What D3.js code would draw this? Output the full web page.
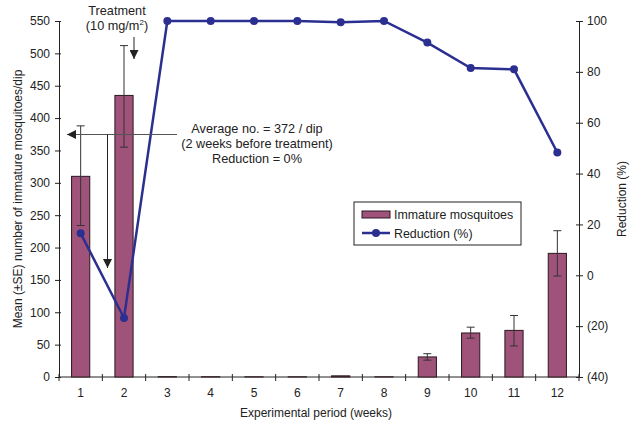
<!DOCTYPE html>
<html>
<head>
<meta charset="utf-8">
<script src="https://cdn.jsdelivr.net/npm/d3@7"></script>
<style>
  body { margin: 0; background: #fff; }
  svg { font-family: "Liberation Sans", Arial, sans-serif; }
  text { fill: #222; }
</style>
</head>
<body>
<svg id="chart"></svg>
<script>
const weeks = [1, 2, 3, 4, 5, 6, 7, 8, 9, 10, 11, 12];
const meanImmature = [310, 435, 0.5, 0.4, 0.3, 0.3, 1.8, 0.3, 31, 68, 72, 191];
const seUpper = [388, 512, 0.5, 0.4, 0.3, 0.3, 1.8, 0.3, 36, 77, 95, 226];
const seLower = [234, 355, 0.5, 0.4, 0.3, 0.3, 1.8, 0.3, 26, 60, 48, 156];
const reduction = [16.5, -16.8, 100, 100, 100, 100, 99.5, 100, 91.5, 81.5, 81, 48.3];
const leftTicks = [0, 50, 100, 150, 200, 250, 300, 350, 400, 450, 500, 550];
const rightTicks = [-40, -20, 0, 20, 40, 60, 80, 100];

const width = 639;
const height = 425;
const barColor = "#a0537a";
const lineColor = "#2b2f90";
const noteSize = 12.7;

const svg = d3.select("#chart")
    .attr("width", width)
    .attr("height", height);

const plotLeft = 59, plotRight = 579, plotTop = 21, plotBottom = 377;

const x = d3.scaleBand()
    .domain(weeks)
    .range([plotLeft, plotRight])
    .paddingInner(0.58)
    .paddingOuter(0.29);

const yL = d3.scaleLinear().domain([0, 550]).range([plotBottom, plotTop]);
const yR = d3.scaleLinear().domain([-40, 100]).range([plotBottom, plotTop]);

const data = weeks.map((w, i) => ({
  week: w, mean: meanImmature[i], hi: seUpper[i], lo: seLower[i], red: reduction[i]
}));

// left axis
const axL = svg.append("g")
    .attr("transform", `translate(${plotLeft},0)`)
    .call(d3.axisLeft(yL).tickValues(leftTicks).tickSize(4).tickPadding(5).tickSizeOuter(0));
axL.selectAll(".tick line").attr("x1", 2);

// right axis
const axR = svg.append("g")
    .attr("transform", `translate(${plotRight},0)`)
    .call(d3.axisRight(yR).tickValues(rightTicks).tickSize(4).tickPadding(4).tickSizeOuter(0)
      .tickFormat(d => d < 0 ? `(${-d})` : d));
axR.selectAll(".tick line").attr("x1", -3);

// bottom axis: ticks at band boundaries
svg.append("line")
    .attr("x1", plotLeft).attr("x2", plotRight)
    .attr("y1", plotBottom).attr("y2", plotBottom)
    .attr("stroke", "#222");
const step = x.step();
svg.selectAll(".xtick")
    .data(d3.range(weeks.length + 1))
    .enter()
    .append("line")
    .attr("class", "xtick")
    .attr("x1", i => plotLeft + i * step).attr("x2", i => plotLeft + i * step)
    .attr("y1", plotBottom - 3).attr("y2", plotBottom + 4)
    .attr("stroke", "#222");
svg.selectAll(".xlabel")
    .data(weeks)
    .enter()
    .append("text")
    .attr("class", "xlabel")
    .attr("x", d => x(d) + x.bandwidth() / 2)
    .attr("y", plotBottom + 20)
    .attr("text-anchor", "middle")
    .attr("font-size", 12)
    .text(d => d);

svg.selectAll(".domain").attr("stroke", "#222");
svg.selectAll(".tick line").attr("stroke", "#222");
svg.selectAll(".tick text").attr("font-size", 12).attr("fill", "#222");

// bars
svg.selectAll(".bar")
    .data(data)
    .enter()
    .append("rect")
    .attr("class", "bar")
    .attr("x", d => x(d.week))
    .attr("width", x.bandwidth())
    .attr("y", d => yL(d.mean))
    .attr("height", d => plotBottom - yL(d.mean))
    .attr("fill", barColor)
    .attr("stroke", "#2a1820")
    .attr("stroke-width", 1);

// error bars (only where visible)
const errs = data.filter(d => d.hi - d.lo > 1);
const eb = svg.selectAll(".err")
    .data(errs)
    .enter()
    .append("g")
    .attr("class", "err")
    .attr("stroke", "#333")
    .attr("stroke-width", 1);
eb.append("line")
    .attr("x1", d => x(d.week) + x.bandwidth() / 2)
    .attr("x2", d => x(d.week) + x.bandwidth() / 2)
    .attr("y1", d => yL(d.hi)).attr("y2", d => yL(d.lo));
eb.append("line")
    .attr("x1", d => x(d.week) + x.bandwidth() / 2 - 4)
    .attr("x2", d => x(d.week) + x.bandwidth() / 2 + 4)
    .attr("y1", d => yL(d.hi)).attr("y2", d => yL(d.hi));
eb.append("line")
    .attr("x1", d => x(d.week) + x.bandwidth() / 2 - 4)
    .attr("x2", d => x(d.week) + x.bandwidth() / 2 + 4)
    .attr("y1", d => yL(d.lo)).attr("y2", d => yL(d.lo));

// reduction line
const line = d3.line()
    .x(d => x(d.week) + x.bandwidth() / 2)
    .y(d => yR(d.red));
svg.append("path")
    .datum(data)
    .attr("fill", "none")
    .attr("stroke", lineColor)
    .attr("stroke-width", 2.5)
    .attr("d", line);
svg.selectAll(".dot")
    .data(data)
    .enter()
    .append("circle")
    .attr("class", "dot")
    .attr("cx", d => x(d.week) + x.bandwidth() / 2)
    .attr("cy", d => yR(d.red))
    .attr("r", 4)
    .attr("fill", lineColor);

// annotations
const defs = svg.append("defs");
defs.append("marker")
    .attr("id", "arrow")
    .attr("viewBox", "0 0 10 10")
    .attr("refX", 10).attr("refY", 5)
    .attr("markerWidth", 9).attr("markerHeight", 9)
    .attr("markerUnits", "userSpaceOnUse")
    .attr("orient", "auto")
    .append("path")
    .attr("d", "M0,0 L10,5 L0,10 Z")
    .attr("fill", "#222");

svg.append("text").attr("x", 117).attr("y", 15).attr("text-anchor", "middle")
    .attr("font-size", noteSize).text("Treatment");
const t2 = svg.append("text").attr("x", 117).attr("y", 30).attr("text-anchor", "middle")
    .attr("font-size", noteSize);
t2.append("tspan").text("(10 mg/m");
t2.append("tspan").attr("font-size", 8).attr("dy", -5).text("2");
t2.append("tspan").attr("dy", 5).text(")");
svg.append("line")
    .attr("x1", 134).attr("x2", 134).attr("y1", 37).attr("y2", 59)
    .attr("stroke", "#222").attr("marker-end", "url(#arrow)");

const avgY = 134.5;
svg.append("line")
    .attr("x1", 177).attr("x2", 67).attr("y1", avgY).attr("y2", avgY)
    .attr("stroke", "#555").attr("stroke-width", 1.2).attr("marker-end", "url(#arrow)");
svg.append("line")
    .attr("x1", 107.5).attr("x2", 107.5).attr("y1", avgY).attr("y2", 268)
    .attr("stroke", "#222").attr("marker-end", "url(#arrow)");

const noteX = 257;
svg.append("text").attr("x", noteX).attr("y", 133).attr("text-anchor", "middle")
    .attr("font-size", noteSize).text("Average no. = 372 / dip");
svg.append("text").attr("x", noteX).attr("y", 148).attr("text-anchor", "middle")
    .attr("font-size", noteSize).text("(2 weeks before treatment)");
svg.append("text").attr("x", noteX).attr("y", 163).attr("text-anchor", "middle")
    .attr("font-size", noteSize).text("Reduction = 0%");

// legend
const lg = svg.append("g").attr("transform", "translate(354,202)");
lg.append("rect").attr("width", 167).attr("height", 43)
    .attr("fill", "#fff").attr("stroke", "#222");
lg.append("rect").attr("x", 8).attr("y", 9).attr("width", 28).attr("height", 7)
    .attr("fill", barColor).attr("stroke", "#2a1820");
lg.append("text").attr("x", 40).attr("y", 17).attr("font-size", 12.4).text("Immature mosquitoes");
lg.append("line").attr("x1", 8).attr("x2", 36).attr("y1", 31).attr("y2", 31)
    .attr("stroke", lineColor).attr("stroke-width", 2.5);
lg.append("circle").attr("cx", 22).attr("cy", 31).attr("r", 4).attr("fill", lineColor);
lg.append("text").attr("x", 40).attr("y", 36).attr("font-size", 12.4).text("Reduction (%)");

// axis titles
svg.append("text")
    .attr("transform", "rotate(-90)")
    .attr("x", -199).attr("y", 22)
    .attr("text-anchor", "middle")
    .attr("font-size", 12)
    .text("Mean (\u00b1SE) number of immature mosquitoes/dip");
svg.append("text")
    .attr("transform", "rotate(-90)")
    .attr("x", -199).attr("y", 626)
    .attr("text-anchor", "middle")
    .attr("font-size", 12)
    .text("Reduction (%)");
svg.append("text")
    .attr("x", 316).attr("y", 417)
    .attr("text-anchor", "middle")
    .attr("font-size", 12)
    .text("Experimental period (weeks)");
</script>
</body>
</html>
